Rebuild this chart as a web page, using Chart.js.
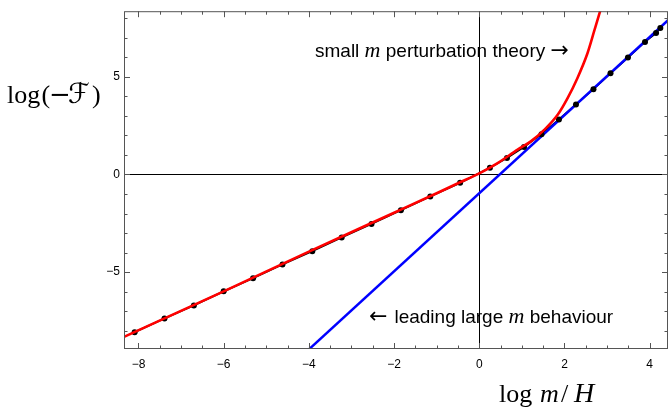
<!DOCTYPE html>
<html>
<head>
<meta charset="utf-8">
<script src="https://cdn.jsdelivr.net/npm/chart.js@4"></script>
<style>
  html, body { margin: 0; padding: 0; background: #fff; }
</style>
</head>
<body>
<canvas id="freeEnergyChart" width="672" height="409"></canvas>
<script>
// numerical results (black dots), x = log m/H, y = log(-F)
const numX = [-8.09, -7.39, -6.70, -6.00, -5.31, -4.62, -3.92, -3.23, -2.53, -1.84, -1.15, -0.45,
              0.25, 0.65, 1.05, 1.46, 1.87, 2.27, 2.68, 3.08, 3.49, 3.89, 4.15, 4.25];
const numY = [-8.07, -7.37, -6.70, -5.98, -5.31, -4.61, -3.93, -3.22, -2.53, -1.83, -1.13, -0.43,
              0.34, 0.84, 1.40, 2.06, 2.81, 3.58, 4.36, 5.17, 5.98, 6.78, 7.23, 7.49];

// small m perturbation theory (red)
const pertX = [-8.45, -6.00, -4.00, -2.00, -1.00, -0.50, 0.00, 0.44, 0.90, 1.21, 1.53, 1.84, 2.07, 2.30, 2.54, 2.70, 2.83, 2.92];
const pertY = [-8.42, -5.98, -3.95, -1.96, -0.96, -0.45, 0.05, 0.59, 1.27, 1.69, 2.29, 3.05, 3.89, 4.91, 6.20, 7.35, 8.30, 9.00];

// leading large m behaviour (blue)
const largeX = [-4.00, 4.45];
const largeY = [-8.95, 7.93];

const xTicks = [-8, -6, -4, -2, 0, 2, 4];
const yTicks = [-5, 0, 5];

const SANS = '19px "Liberation Sans", Arial, sans-serif';
const MATH_IT = 'italic 22px "Liberation Serif", serif';
const ARROW = '22px "DejaVu Sans", sans-serif';
const SERIF = '26px "Liberation Serif", serif';
const SERIF_IT = 'italic 26px "Liberation Serif", serif';
const SCRIPT = '28px "DejaVu Serif", "DejaVu Sans", serif';

function toPoints(xs, ys) {
    return xs.map((x, i) => ({ x: x, y: ys[i] }));
}

function minusLabel(v) {
    return v < 0 ? '\u2212' + Math.abs(v) : String(v);
}

// Mathematica style frame with inward ticks on all four sides
const frameTicks = {
    id: 'frameTicks',
    afterDatasetsDraw(chart) {
        const { ctx, chartArea: a, scales: { x, y } } = chart;
        ctx.save();
        ctx.strokeStyle = '#555';
        ctx.lineWidth = 1;
        ctx.strokeRect(a.left + 0.5, a.top + 0.5, a.right - a.left - 1, a.bottom - a.top - 1);
        ctx.beginPath();
        for (let v = -8; v <= 4; v += 0.5) {
            const len = xTicks.includes(v) ? 6 : 3.5;
            const px = Math.round(x.getPixelForValue(v)) + 0.5;
            ctx.moveTo(px, a.bottom);
            ctx.lineTo(px, a.bottom - len);
            ctx.moveTo(px, a.top);
            ctx.lineTo(px, a.top + len);
        }
        for (let v = -8; v <= 8; v += 1) {
            const len = yTicks.includes(v) ? 6 : 3.5;
            const py = Math.round(y.getPixelForValue(v)) + 0.5;
            ctx.moveTo(a.left, py);
            ctx.lineTo(a.left + len, py);
            ctx.moveTo(a.right, py);
            ctx.lineTo(a.right - len, py);
        }
        ctx.stroke();
        ctx.restore();
    }
};

function drawRuns(ctx, runs, x, y) {
    for (const [text, font] of runs) {
        ctx.font = font;
        ctx.fillText(text, x, y);
        x += ctx.measureText(text).width;
    }
}

// axis titles and the two annotations
const labels = {
    id: 'labels',
    afterDraw(chart) {
        const ctx = chart.ctx;
        ctx.save();
        ctx.fillStyle = '#000';
        ctx.textBaseline = 'alphabetic';
        ctx.textAlign = 'left';

        drawRuns(ctx, [['small ', SANS], ['m', MATH_IT], [' perturbation theory ', SANS], ['\u2192', ARROW]], 315, 57);
        drawRuns(ctx, [['\u2190 ', ARROW], ['leading large ', SANS], ['m', MATH_IT], [' behaviour', SANS]], 369, 323);

        // log(-F)
        ctx.font = SERIF;
        ctx.fillText('log', 7, 103);
        ctx.fillText('(', 41.5, 103);
        ctx.font = '26px "DejaVu Serif", serif';
        ctx.fillText('\u2212', 49, 103);
        ctx.font = SCRIPT;
        ctx.fillText('\u2131', 68, 103);
        const fEnd = 68 + ctx.measureText('\u2131').width;
        ctx.font = SERIF;
        ctx.fillText(')', Math.max(fEnd + 2, 88), 103);

        // log m/H
        ctx.fillText('log', 499, 402);
        ctx.font = SERIF_IT;
        ctx.fillText('m', 540, 402);
        ctx.font = SERIF;
        ctx.fillText('/', 561, 402);
        ctx.font = 'italic 28px "Liberation Serif", serif';
        ctx.fillText('H', 574, 402);
        ctx.restore();
    }
};

const tickFont = { family: '"Liberation Sans", Arial, sans-serif', size: 12 };

const ctx = document.getElementById('freeEnergyChart').getContext('2d');

const config = {
    type: 'scatter',
    data: {
        datasets: [
            {
                label: 'numerical line',
                data: toPoints(numX, numY),
                showLine: true,
                borderColor: '#000',
                borderWidth: 1.8,
                pointRadius: 0,
                clip: 0,
                order: 4
            },
            {
                label: 'leading large m',
                data: toPoints(largeX, largeY),
                showLine: true,
                borderColor: '#0000ff',
                borderWidth: 2.5,
                pointRadius: 0,
                clip: 0,
                order: 3
            },
            {
                label: 'numerical',
                data: toPoints(numX, numY),
                showLine: false,
                pointRadius: 3,
                pointBackgroundColor: '#000',
                pointBorderColor: '#000',
                pointBorderWidth: 0,
                clip: 0,
                order: 2
            },
            {
                label: 'small m perturbation theory',
                data: toPoints(pertX, pertY),
                showLine: true,
                borderColor: '#ff0000',
                borderWidth: 2.6,
                pointRadius: 0,
                cubicInterpolationMode: 'monotone',
                clip: 0,
                order: 1
            }
        ]
    },
    options: {
        responsive: false,
        animation: false,
        devicePixelRatio: 1,
        layout: { padding: { left: 0, right: 1, top: 9, bottom: 0 } },
        plugins: {
            legend: { display: false },
            tooltip: { enabled: false }
        },
        scales: {
            x: {
                type: 'linear',
                min: -8.34,
                max: 4.43,
                afterFit: s => { s.height = 60; },
                afterBuildTicks: s => { s.ticks = xTicks.map(v => ({ value: v })); },
                ticks: {
                    font: tickFont,
                    color: '#000',
                    padding: 8,
                    maxRotation: 0,
                    callback: minusLabel
                },
                grid: {
                    drawTicks: false,
                    lineWidth: 1,
                    color: c => (c.tick && c.tick.value === 0 ? '#000' : 'rgba(0,0,0,0)')
                },
                border: { display: false }
            },
            y: {
                type: 'linear',
                min: -8.93,
                max: 8.35,
                afterFit: s => { s.width = 124; },
                afterBuildTicks: s => { s.ticks = yTicks.map(v => ({ value: v })); },
                ticks: {
                    font: tickFont,
                    color: '#000',
                    padding: 4,
                    callback: minusLabel
                },
                grid: {
                    drawTicks: false,
                    lineWidth: 1,
                    color: c => (c.tick && c.tick.value === 0 ? '#000' : 'rgba(0,0,0,0)')
                },
                border: { display: false }
            }
        }
    },
    plugins: [frameTicks, labels]
};

new Chart(ctx, config);
</script>
</body>
</html>
